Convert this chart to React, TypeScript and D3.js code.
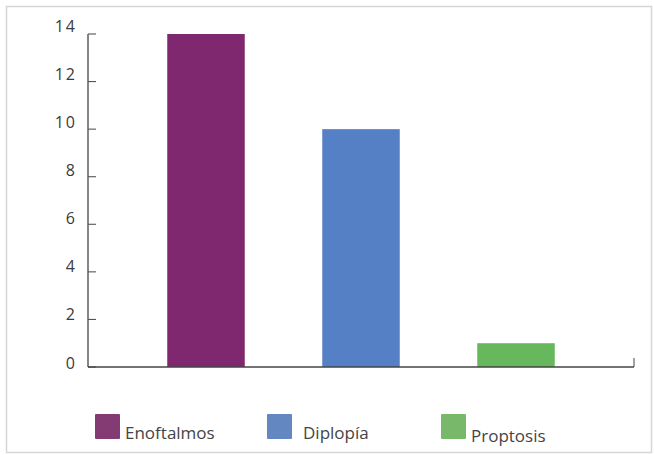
import React from "react";
import * as d3 from "d3";

const categories = ["Enoftalmos", "Diplopía", "Proptosis"];
const values = [14, 10, 1];
const barColors = ["#80286f", "#5580c6", "#67b85c"];
const legendColors = ["#843a72", "#6388c1", "#78b86b"];
const yTicks = [0, 2, 4, 6, 8, 10, 12, 14];

const W = 654;
const H = 455;
const FONT = "'Open Sans', Lato, sans-serif";

export default function App() {
  const x = d3
    .scaleBand<string>()
    .domain(categories)
    .range([128.5, 593.5])
    .paddingInner(0.5)
    .paddingOuter(0.25);
  const y = d3.scaleLinear().domain([0, 14]).range([367, 34]);
  // tick labels sit slightly above their tick marks
  const yLabel = d3.scaleLinear().domain([0, 14]).range([363, 26]);

  const axisX0 = 88;
  const axisX1 = 634;

  const legendSq = [95, 267, 441];
  const legendTxt = [125, 303, 471];
  const legendBase = [439, 439, 442];

  return (
    <svg width={W} height={H} style={{ position: "absolute", left: 0, top: 0 }}>
      <rect x={0} y={0} width={W} height={H} fill="#ffffff" />
      <rect x={6.5} y={6.5} width={645} height={446} fill="none" stroke="#d6d6d6" strokeWidth={1.5} />

      {categories.map((c, i) => (
        <rect
          key={c}
          x={x(c)}
          y={y(values[i])}
          width={x.bandwidth()}
          height={y(0) - y(values[i])}
          fill={barColors[i]}
        />
      ))}

      {/* y axis */}
      <line x1={axisX0} x2={axisX0} y1={y(14)} y2={y(0)} stroke="#444" strokeWidth={1.3} />
      {yTicks.map((t) => (
        <g key={t}>
          <line x1={axisX0} x2={axisX0 + 8} y1={y(t)} y2={y(t)} stroke="#555" strokeWidth={1.1} />
          <text
            x={77}
            y={yLabel(t)}
            dy="0.35em"
            textAnchor="end"
            fontFamily={FONT}
            fontSize={16}
            letterSpacing={2}
            fill="#3a3a3a"
          >
            {t}
          </text>
        </g>
      ))}

      {/* x axis */}
      <line x1={axisX0} x2={axisX1} y1={y(0)} y2={y(0)} stroke="#444" strokeWidth={1.3} />
      <line x1={axisX1} x2={axisX1} y1={y(0)} y2={y(0) - 9} stroke="#555" strokeWidth={1.1} />

      {/* legend */}
      {categories.map((c, i) => (
        <g key={c}>
          <rect x={legendSq[i]} y={414} width={25} height={25} rx={1} fill={legendColors[i]} />
          <text
            x={legendTxt[i]}
            y={legendBase[i]}
            fontFamily={FONT}
            fontSize={17}
            fill="#444"
          >
            {c}
          </text>
        </g>
      ))}
    </svg>
  );
}
